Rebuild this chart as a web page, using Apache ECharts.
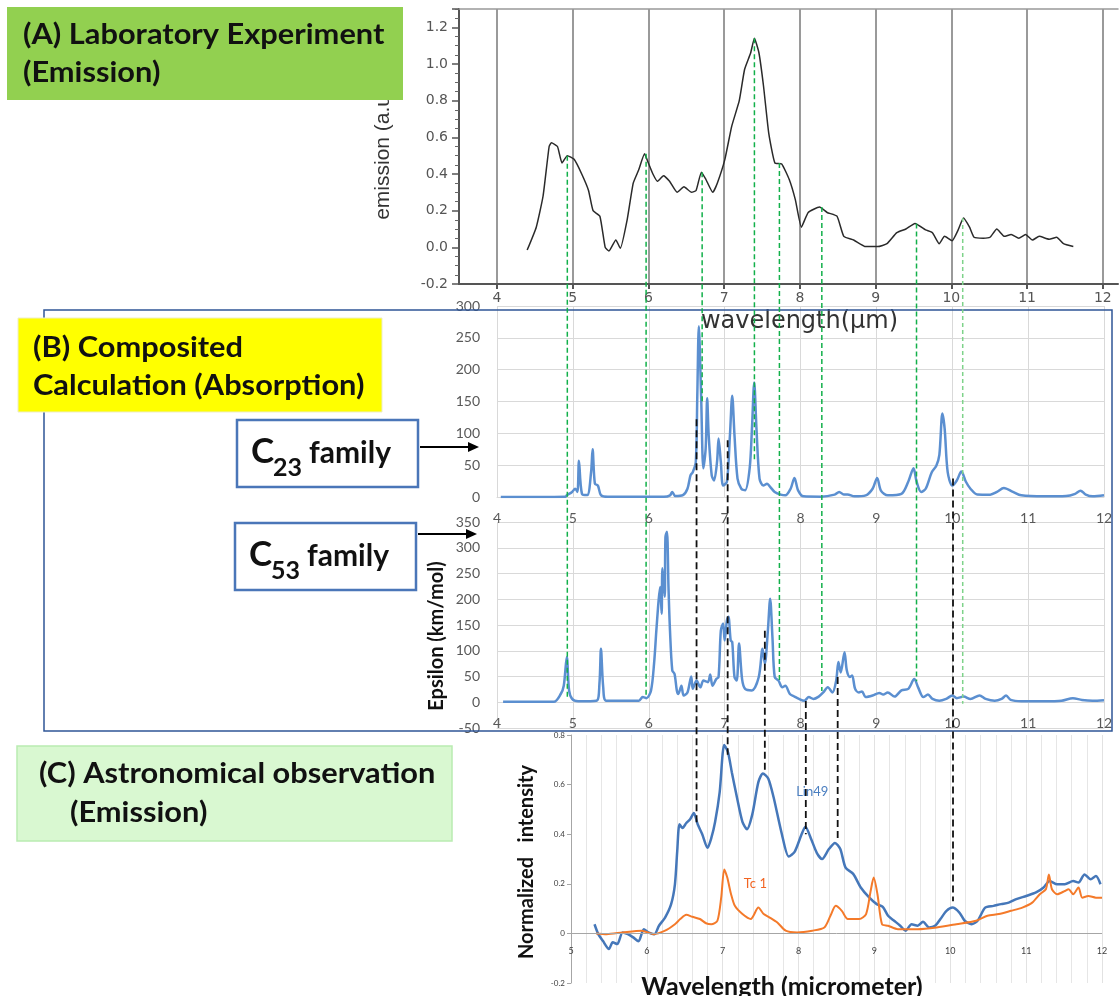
<!DOCTYPE html>
<html><head><meta charset="utf-8">
<script src="https://cdn.jsdelivr.net/npm/echarts@6/dist/echarts.min.js"></script>
<style>html,body{margin:0;padding:0;background:#fff}#c{width:1119px;height:996px}</style>
</head><body><div id="c"></div>
<script>
// ---------- Panel A: laboratory emission ----------
const labWl = [4.40,4.52,4.61,4.69,4.72,4.80,4.86,4.93,5.02,5.12,5.21,5.27,5.36,5.43,5.48,5.57,5.63,5.72,5.80,5.87,5.95,6.00,6.06,6.12,6.20,6.28,6.38,6.47,6.57,6.63,6.70,6.76,6.85,6.91,7.01,7.10,7.20,7.27,7.35,7.40,7.46,7.52,7.59,7.67,7.76,7.86,7.94,8.02,8.11,8.26,8.36,8.49,8.58,8.71,8.87,9.03,9.15,9.28,9.40,9.52,9.66,9.75,9.84,9.91,10.01,10.09,10.16,10.24,10.30,10.42,10.51,10.60,10.70,10.79,10.89,10.98,11.07,11.16,11.29,11.39,11.48,11.61];
const labEmission = [-0.015,0.11,0.28,0.55,0.57,0.55,0.46,0.50,0.48,0.40,0.31,0.20,0.17,0.00,-0.02,0.04,-0.005,0.15,0.35,0.42,0.51,0.46,0.40,0.36,0.39,0.36,0.30,0.33,0.30,0.31,0.41,0.37,0.30,0.35,0.48,0.66,0.80,0.97,1.06,1.14,1.06,0.88,0.62,0.46,0.455,0.37,0.26,0.11,0.19,0.22,0.19,0.17,0.06,0.04,0.004,0.004,0.02,0.08,0.10,0.13,0.095,0.08,0.02,0.06,0.036,0.095,0.16,0.11,0.055,0.05,0.055,0.10,0.06,0.07,0.05,0.07,0.04,0.06,0.044,0.055,0.02,0.004];

// ---------- Panel B: C23 family ----------
const c23Wl = [4.05,4.90,4.92,4.99,5.03,5.06,5.08,5.12,5.19,5.24,5.26,5.29,5.33,5.37,5.46,6.20,6.28,6.31,6.35,6.45,6.51,6.55,6.58,6.62,6.64,6.66,6.69,6.72,6.75,6.77,6.79,6.83,6.86,6.90,6.92,6.95,6.98,7.03,7.07,7.10,7.13,7.17,7.22,7.27,7.33,7.36,7.39,7.42,7.46,7.51,7.56,7.60,7.66,7.74,7.80,7.87,7.92,7.97,8.04,8.27,8.45,8.51,8.57,8.62,8.71,8.86,8.95,9.01,9.06,9.15,9.33,9.42,9.49,9.53,9.59,9.65,9.73,9.79,9.83,9.87,9.90,9.94,10.00,10.06,10.12,10.18,10.24,10.33,10.50,10.59,10.68,10.80,10.91,11.21,11.50,11.62,11.69,11.76,11.85,12.00];
const c23Eps = [0,0.5,2.6,8,13,8,57,5,3,39,75,21,18,3,0.5,0.5,2.6,8,1.5,3,13,34,39,55,160,268,160,45,76,155,97,34,26,55,92,55,18,24,97,159,97,29,13,10.5,45,107,180,107,29,18,21,16,8,3.7,2.6,13,30,10,1,0.5,3.7,8,4,4,1,2.6,13,30,10,2.6,5,24,45,24,8,13,39,49,66,131,107,39,18,26,40,24,13,4,3.7,8,14,8,2.6,1,1.5,5,10,3.7,1,2.6];

// ---------- Panel B: C53 family ----------
const c53Wl = [4.08,4.75,4.84,4.88,4.92,4.95,4.99,5.07,5.31,5.35,5.37,5.40,5.44,5.87,5.92,5.97,6.03,6.07,6.10,6.13,6.15,6.17,6.18,6.21,6.22,6.24,6.26,6.28,6.31,6.34,6.37,6.39,6.43,6.46,6.51,6.56,6.58,6.63,6.68,6.72,6.78,6.81,6.84,6.89,6.92,6.95,6.98,7.00,7.03,7.05,7.08,7.10,7.13,7.16,7.19,7.23,7.27,7.36,7.45,7.50,7.53,7.57,7.60,7.63,7.66,7.71,7.76,7.80,7.86,7.92,7.98,8.05,8.11,8.17,8.24,8.30,8.36,8.42,8.47,8.50,8.53,8.58,8.61,8.65,8.68,8.72,8.77,8.81,8.86,8.95,9.04,9.09,9.15,9.24,9.33,9.42,9.50,9.55,9.62,9.68,9.74,9.83,9.92,10.00,10.06,10.15,10.24,10.36,10.44,10.56,10.65,10.71,10.77,10.91,11.21,11.44,11.59,11.71,11.85,12.00];
const c53Eps = [1,1,16,32,88,23,6.5,2,3,36,104,29,3,3,10,8,23,75,139,198,224,172,260,205,321,331,224,139,62,55,23,16,32,13,19,50,26,42,29,42,39,54,32,45,49,139,153,120,159,166,120,117,49,42,114,45,26,23,49,104,75,139,201,127,49,42,29,32,16,11,6.5,3,10,6.5,11,19,29,19,42,78,58,97,62,49,52,26,19,21,10,13,18,15,19,11,23,26,45,29,10,15,6.5,3,6.5,13,8,11,6.5,13,6.5,3,6.5,13,4.5,2,2,3,8,4.5,3,4];

// ---------- Panel C: astronomical observation ----------
const lin49Wl = [5.31,5.36,5.42,5.50,5.55,5.61,5.68,5.75,5.82,5.89,5.96,6.02,6.10,6.16,6.24,6.32,6.37,6.40,6.43,6.47,6.52,6.57,6.62,6.67,6.73,6.80,6.85,6.90,6.96,7.02,7.07,7.12,7.19,7.26,7.32,7.39,7.47,7.53,7.60,7.67,7.78,7.87,7.95,8.04,8.09,8.16,8.24,8.31,8.40,8.48,8.55,8.62,8.72,8.82,8.93,9.03,9.11,9.18,9.26,9.34,9.41,9.49,9.57,9.64,9.72,9.80,9.87,9.95,10.03,10.12,10.19,10.28,10.36,10.46,10.57,10.67,10.77,10.87,11.00,11.13,11.23,11.31,11.41,11.51,11.62,11.69,11.77,11.85,11.92,11.98];
const lin49Int = [0.037,-0.003,-0.03,-0.063,-0.036,-0.043,0.004,-0.003,-0.016,-0.032,0.017,0.004,-0.003,0.031,0.064,0.118,0.198,0.33,0.44,0.425,0.445,0.46,0.485,0.44,0.40,0.345,0.385,0.45,0.57,0.76,0.73,0.65,0.545,0.45,0.42,0.48,0.61,0.645,0.625,0.55,0.40,0.31,0.33,0.40,0.43,0.385,0.325,0.30,0.34,0.365,0.34,0.265,0.24,0.185,0.145,0.118,0.107,0.071,0.051,0.031,0.011,0.037,0.031,0.047,0.024,0.031,0.058,0.091,0.104,0.084,0.051,0.037,0.051,0.104,0.111,0.118,0.124,0.138,0.151,0.165,0.185,0.211,0.198,0.198,0.211,0.205,0.238,0.218,0.231,0.198];
const tc1Wl = [5.33,5.47,5.68,5.93,6.09,6.24,6.37,6.44,6.52,6.60,6.70,6.78,6.85,6.93,6.98,7.02,7.06,7.11,7.16,7.26,7.37,7.47,7.54,7.62,7.72,7.83,7.98,8.18,8.34,8.42,8.49,8.57,8.65,8.80,8.89,8.95,8.99,9.04,9.10,9.18,9.31,9.57,9.82,10.08,10.34,10.49,10.64,10.80,10.95,11.08,11.18,11.26,11.30,11.34,11.41,11.51,11.56,11.62,11.69,11.74,11.82,11.92,12.00];
const tc1Int = [0,-0.003,0.004,0.011,-0.003,0.011,0.037,0.058,0.075,0.067,0.058,0.041,0.037,0.051,0.144,0.258,0.225,0.158,0.111,0.078,0.058,0.104,0.078,0.064,0.044,0.011,0.004,0.011,0.024,0.071,0.111,0.091,0.058,0.058,0.078,0.171,0.225,0.158,0.037,0.031,0.017,0.017,0.024,0.037,0.051,0.071,0.078,0.091,0.104,0.124,0.158,0.178,0.238,0.178,0.158,0.171,0.178,0.158,0.185,0.144,0.151,0.144,0.144];

// ---------- tick labels ----------
const labTicks = [4,5,6,7,8,9,10,11,12];

// ---------- guide lines (wavelengths and where they start/stop) ----------
const greenWl = [4.93, 5.97, 6.71, 7.40, 7.73, 8.29, 9.54, 10.15];
const greenTopEmission = [0.50, 0.51, 0.41, 1.14, 0.46, 0.22, 0.13, 0.16];
const greenEndPanel = [2, 2, 1, 1, 2, 2, 2, 2];      // 1 = C23, 2 = C53
const greenEndValue = [6, 10, 147, 57, 41, 22, 41, -3];
const blackWl = [6.63, 7.04, 7.53, 8.07, 8.49, 10.01];
const blackTopPanel = [1, 1, 2, 2, 2, 1];
const blackTopValue = [122, 89, 139, 2.5, 49, 29];
const blackEndIntensity = [0.44, 0.72, 0.65, 0.40, 0.37, 0.13];

const zip = (a, b) => a.map((v, i) => [v, b[i]]);

const gray6 = '#595959', gridGray = '#D9D9D9';
const chart = echarts.init(document.getElementById('c'));

const option = {
  animation: false,
  backgroundColor: '#ffffff',
  grid: [
    {left: 459, right: 1, top: 9, height: 275, outerBoundsMode: 'none'},
    {left: 497, right: 15, top: 306, height: 191, outerBoundsMode: 'none'},
    {left: 497, right: 15, top: 522, height: 206, outerBoundsMode: 'none'},
    {left: 571, right: 17, top: 735, height: 248, outerBoundsMode: 'none'}
  ],
  xAxis: [
    { // 0: panel A
      type: 'value', gridIndex: 0, min: 3.5, max: 12.2,
      axisLine: {onZero: false, lineStyle: {color: '#555', width: 2}},
      axisTick: {show: true, customValues: labTicks, length: 5, lineStyle: {color: '#555', width: 2}},
      axisLabel: {customValues: labTicks, color: '#555', fontSize: 14, margin: 7, fontFamily: 'DejaVu Sans'},
      splitLine: {show: true, lineStyle: {color: '#9a9a9a', width: 2}},
      name: 'wavelength(μm)', nameLocation: 'middle', nameGap: 26,
      nameTextStyle: {fontSize: 24, color: '#333', fontFamily: 'DejaVu Sans', padding: [0, 0, 0, 22]}
    },
    { // 1: panel A top border
      type: 'value', gridIndex: 0, min: 3.5, max: 12.2, position: 'top',
      axisLine: {onZero: false, lineStyle: {color: '#999', width: 1.5}},
      axisTick: {show: false}, axisLabel: {show: false}, splitLine: {show: false}
    },
    { // 2: C23
      type: 'value', gridIndex: 1, min: 4, max: 12, interval: 1,
      axisLine: {lineStyle: {color: gridGray}}, axisTick: {show: false},
      axisLabel: {color: gray6, fontSize: 14, margin: 14, fontFamily: 'Lato'},
      splitLine: {show: true, lineStyle: {color: gridGray}}
    },
    { // 3: C53
      type: 'value', gridIndex: 2, min: 4, max: 12, interval: 1,
      axisLine: {onZero: false, lineStyle: {color: gridGray}}, axisTick: {show: false},
      axisLabel: {color: gray6, fontSize: 14, margin: -12, fontFamily: 'Lato'},
      splitLine: {show: true, lineStyle: {color: gridGray}}
    },
    { // 4: panel C
      type: 'value', gridIndex: 3, min: 5, max: 12, interval: 1,
      axisLine: {show: false, onZero: false}, axisTick: {show: false},
      axisLabel: {color: '#404040', fontSize: 9, margin: -36, fontFamily: 'Lato'},
      splitLine: {show: true, lineStyle: {color: '#E2E2E2'}},
      minorTick: {show: false, splitNumber: 5},
      minorSplitLine: {show: true, lineStyle: {color: '#E6E6E6'}}
    }
  ],
  yAxis: [
    { // 0: panel A
      type: 'value', gridIndex: 0, min: -0.2, max: 1.3, interval: 0.2,
      axisLine: {show: true, lineStyle: {color: '#555', width: 2}},
      axisTick: {show: true, length: 7, lineStyle: {color: '#555', width: 1.5}},
      minorTick: {show: true, splitNumber: 4, length: 4, lineStyle: {color: '#666'}},
      axisLabel: {color: '#555', fontSize: 14, margin: 11, fontFamily: 'DejaVu Sans', showMaxLabel: false,
        formatter: v => v.toFixed(1)},
      splitLine: {show: false}
    },
    { // 1: C23
      type: 'value', gridIndex: 1, min: 0, max: 300, interval: 50,
      axisLine: {show: false}, axisTick: {show: false},
      axisLabel: {color: gray6, fontSize: 14, margin: 17, fontFamily: 'Lato'},
      splitLine: {show: true, lineStyle: {color: gridGray}}
    },
    { // 2: C53
      type: 'value', gridIndex: 2, min: -50, max: 350, interval: 50,
      axisLine: {show: false}, axisTick: {show: false},
      axisLabel: {color: gray6, fontSize: 14, margin: 17, fontFamily: 'Lato'},
      splitLine: {show: true, lineStyle: {color: gridGray}}
    },
    { // 3: panel C
      type: 'value', gridIndex: 3, min: -0.2, max: 0.8, interval: 0.2,
      axisLine: {show: true, lineStyle: {color: '#A6A6A6'}},
      axisTick: {show: true, length: 4, lineStyle: {color: '#A6A6A6'}},
      axisLabel: {color: '#404040', fontSize: 8, margin: 6, fontFamily: 'Lato',
        formatter: v => (Math.abs(v) < 1e-9 ? '0' : v.toFixed(1))},
      splitLine: {show: false}
    }
  ],
  series: [
    {name: 'Laboratory emission', type: 'line', xAxisIndex: 0, yAxisIndex: 0, data: zip(labWl, labEmission),
      showSymbol: false, smooth: 0.15, lineStyle: {color: '#2a2a2a', width: 1.5}, z: 3},
    {name: 'C23 family', type: 'line', xAxisIndex: 2, yAxisIndex: 1, data: zip(c23Wl, c23Eps),
      showSymbol: false, smooth: 0.3, lineStyle: {color: '#5B8FD0', width: 2.5}, z: 3},
    {name: 'C53 family', type: 'line', xAxisIndex: 3, yAxisIndex: 2, data: zip(c53Wl, c53Eps),
      showSymbol: false, smooth: 0.3, lineStyle: {color: '#5B8FD0', width: 2.5}, z: 3},
    {name: 'Lin49', type: 'line', xAxisIndex: 4, yAxisIndex: 3, data: zip(lin49Wl, lin49Int),
      showSymbol: false, smooth: 0.25, lineStyle: {color: '#4577B9', width: 2.5}, z: 3,
      markLine: {silent: true, symbol: 'none', label: {show: false},
        lineStyle: {color: '#A6A6A6', type: 'solid', width: 1}, data: [{yAxis: 0}]}},
    {name: 'Tc 1', type: 'line', xAxisIndex: 4, yAxisIndex: 3, data: zip(tc1Wl, tc1Int),
      showSymbol: false, smooth: 0.25, lineStyle: {color: '#F47A2A', width: 2}, z: 3}
  ]
};
chart.setOption(option);

// axes of each panel: [xAxisIndex, yAxisIndex]
const panelAxes = [[0, 0], [2, 1], [3, 2], [4, 3]];
const P = (panel, x, y) => chart.convertToPixel({xAxisIndex: panelAxes[panel][0], yAxisIndex: panelAxes[panel][1]}, [x, y]);

const g = [];
const boldFont = 'Lato';
function txt(t, x, y, size, opts) {
  opts = opts || {};
  return {type: 'text', x: x, y: y, rotation: opts.rotation || 0, scaleX: opts.sx || 1, z: opts.z || 120,
    style: {text: t, x: 0, y: 0, fill: opts.color || '#111', font: (opts.weight || 'bold') + ' ' + size + 'px ' + (opts.family || boldFont),
      align: opts.align || 'left', verticalAlign: opts.va || 'middle'}};
}

// Panel B frame
g.push({type: 'rect', shape: {x: 44, y: 310, width: 1068, height: 421}, style: {fill: 'none', stroke: '#2F5597', lineWidth: 1.5}, z: 40});

// dashed guide lines
greenWl.forEach((w, i) => {
  const top = P(0, w, greenTopEmission[i]);
  const bot = P(greenEndPanel[i], w, greenEndValue[i]);
  const light = i === greenWl.length - 1;
  g.push({type: 'line', shape: {x1: top[0], y1: top[1], x2: top[0], y2: bot[1]},
    style: {stroke: light ? '#7ED38A' : '#12B04A', lineWidth: 1.5, lineDash: light ? [4, 3] : [5, 3]}, z: 60});
});
blackWl.forEach((w, i) => {
  const top = P(blackTopPanel[i], w, blackTopValue[i]);
  const bot = P(3, w, blackEndIntensity[i]);
  g.push({type: 'line', shape: {x1: top[0], y1: top[1], x2: top[0], y2: bot[1]},
    style: {stroke: '#111', lineWidth: 1.8, lineDash: [7, 4]}, z: 60});
});

// axis titles
g.push(txt('emission (a.u.)', 383, 151, 21, {weight: 'normal', family: "'Liberation Sans Narrow', 'Liberation Sans'", color: '#333', rotation: Math.PI / 2, align: 'center', z: 50}));
g.push(txt('Epsilon (km/mol)', 437, 636, 20, {rotation: Math.PI / 2, align: 'center'}));
g.push(txt('Normalized   intensity', 527, 862, 20, {rotation: Math.PI / 2, align: 'center'}));
g.push(txt('Wavelength (micrometer)', 782, 974, 25, {align: 'center', va: 'top'}));

// series labels in panel C
const lp = P(3, 8.18, 0.57), tp = P(3, 7.43, 0.20);
g.push(txt('Lin49', lp[0], lp[1], 13, {weight: 'normal', color: '#4A7EC0', align: 'center'}));
g.push(txt('Tc 1', tp[0], tp[1], 13, {weight: 'normal', color: '#F26522', align: 'center'}));

// (A) box
g.push({type: 'rect', shape: {x: 7, y: 7, width: 396, height: 93}, style: {fill: '#92D050'}, z: 110});
g.push(txt('(A) Laboratory Experiment', 23, 35, 28, {sx: 1.1}));
g.push(txt('(Emission)', 23, 73, 28, {sx: 1.1}));
// (B) box
g.push({type: 'rect', shape: {x: 18, y: 318, width: 364, height: 94}, style: {fill: '#FFFF00', stroke: '#EDEDC8', lineWidth: 1}, z: 110});
g.push(txt('(B) Composited', 33, 348, 28, {sx: 1.1}));
g.push(txt('Calculation (Absorption)', 33, 386, 28, {sx: 1.1}));
// (C) box
g.push({type: 'rect', shape: {x: 17, y: 746, width: 435, height: 95}, style: {fill: '#D9F8D1', stroke: '#B9ECB1', lineWidth: 1.5}, z: 110});
g.push(txt('(C) Astronomical observation', 39, 774, 28, {sx: 1.1}));
g.push(txt('(Emission)', 70, 813, 28, {sx: 1.1}));

// family boxes and arrows
function familyBox(bx, by, sub, arrowY) {
  g.push({type: 'rect', shape: {x: bx, y: by, width: 181, height: 67}, style: {fill: '#fff', stroke: '#4A76B8', lineWidth: 2.5}, z: 110});
  g.push(txt('C', bx + 14, by + 32, 35));
  g.push(txt(sub, bx + 36, by + 48, 25));
  g.push(txt('family', bx + 72, by + 33, 30));
  const ax0 = bx + 183, ax1 = bx + 242;
  g.push({type: 'line', shape: {x1: ax0, y1: arrowY, x2: ax1 - 8, y2: arrowY}, style: {stroke: '#000', lineWidth: 2}, z: 110});
  g.push({type: 'polygon', shape: {points: [[ax1, arrowY], [ax1 - 11, arrowY - 5], [ax1 - 11, arrowY + 5]]}, style: {fill: '#000'}, z: 110});
}
familyBox(237, 420, '23', 447);
familyBox(235, 523, '53', 534);

chart.setOption({graphic: g});
</script>
</body></html>
